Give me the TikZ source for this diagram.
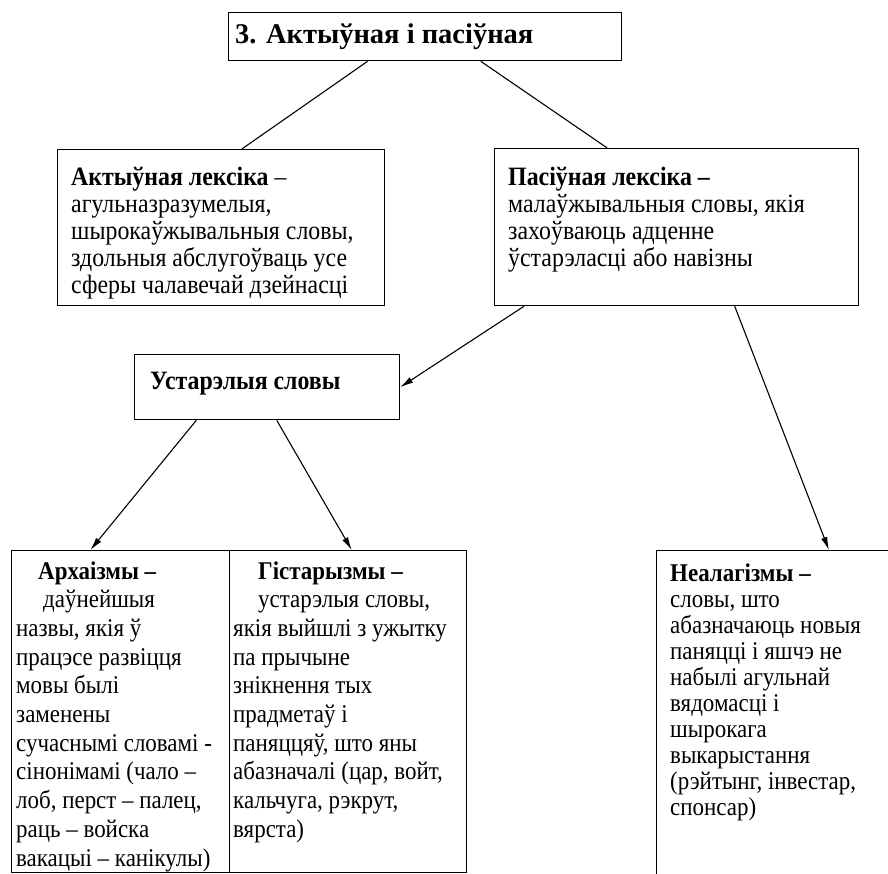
\documentclass[tikz,border=0pt]{standalone}
\usepackage{fontspec}
\setmainfont{Liberation Serif}[FakeStretch=0.9]
\newfontfamily\titlefont{Liberation Serif}
\usetikzlibrary{calc,arrows.meta}
\begin{document}
\begin{tikzpicture}[x=1pt,y=-1pt,
  box/.style={draw, line width=1.3pt, inner sep=0, anchor=north west},
  txt/.style={anchor=base west, inner sep=0, font=\fontsize{26.5}{27}\selectfont},
  conn/.style={line width=1.1pt},
  arr/.style={line width=1.1pt, -{Latex[length=13pt,width=6.5pt]}}]
\useasboundingbox (0,0) rectangle (888,874);
\clip (0,0) rectangle (888,874);
% boxes
\node[box, minimum width=393pt, minimum height=48pt] (top) at (228,12) {};
\node[box, minimum width=327pt, minimum height=156pt] (akt) at (57,149) {};
\node[box, minimum width=364pt, minimum height=157pt] (pas) at (494,148) {};
\node[box, minimum width=265pt, minimum height=65pt] (ust) at (134,354) {};
\node[box, minimum width=218pt, minimum height=322pt] (arx) at (11,550) {};
\node[box, minimum width=237pt, minimum height=322pt] (gis) at (229,550) {};
\node[box, minimum width=250pt, minimum height=340pt] (neo) at (656,550) {};
% texts
\node[txt, font=\fontsize{28.5}{30}\titlefont\bfseries] (ttop) at (235,44) {3. Актыўная і пасіўная};
\node[txt] (takt) at (71,186) {\parbox[t]{315pt}{\raggedright
  \textbf{Актыўная лексіка} –\\
  агульназразумелыя,\\
  шырокаўжывальныя словы,\\
  здольныя абслугоўваць усе\\
  сферы чалавечай дзейнасці}};
\node[txt] (tpas) at (508,186) {\parbox[t]{345pt}{\raggedright
  \textbf{Пасіўная лексіка –}\\
  малаўжывальныя словы, якія\\
  захоўваюць адценне\\
  ўстарэласці або навізны}};
\node[txt, font=\fontsize{26.5}{28}\selectfont\bfseries] (tust) at (150,389) {Устарэлыя словы};
\node[txt, font=\fontsize{25.5}{28.7}\selectfont] (tarx) at (16,579) {\parbox[t]{215pt}{\raggedright
  \hspace*{22pt}\textbf{Архаізмы –}\\
  \hspace*{27pt}даўнейшыя\\
  назвы, якія ў\\
  працэсе развіцця\\
  мовы былі\\
  заменены\\
  сучаснымі словамі -\\
  сінонімамі (чало –\\
  лоб, перст – палец,\\
  раць – войска\\
  вакацыі – канікулы)}};
\node[txt, font=\fontsize{25.5}{28.7}\selectfont] (tgis) at (233,579) {\parbox[t]{235pt}{\raggedright
  \hspace*{25pt}\textbf{Гістарызмы –}\\
  \hspace*{25pt}устарэлыя словы,\\
  якія выйшлі з ужытку\\
  па прычыне\\
  знікнення тых\\
  прадметаў і\\
  паняццяў, што яны\\
  абазначалі (цар, войт,\\
  кальчуга, рэкрут,\\
  вярста)}};
\node[txt, font=\fontsize{25.5}{26}\selectfont] (tneo) at (670,581) {\parbox[t]{215pt}{\raggedright
  \textbf{Неалагізмы –}\\
  словы, што\\
  абазначаюць новыя\\
  паняцці і яшчэ не\\
  набылі агульнай\\
  вядомасці і\\
  шырокага\\
  выкарыстання\\
  (рэйтынг, інвестар,\\
  спонсар)}};
% connectors
\draw[conn] ($(top.south west)!0.354!(top.south east)$) -- ($(akt.north west)!0.563!(akt.north east)$);
\draw[conn] ($(top.south west)!0.641!(top.south east)$) -- ($(pas.north west)!0.310!(pas.north east)$);
\draw[arr] ($(pas.south west)!0.082!(pas.south east)$) -- ($(ust.north east)!0.5!(ust.south east)$);
\draw[arr] ($(pas.south west)!0.659!(pas.south east)$) -- ($(neo.north west)!0.688!(neo.north east)$);
\draw[arr] ($(ust.south west)!0.234!(ust.south east)$) -- ($(arx.north west)!0.362!(arx.north east)$);
\draw[arr] ($(ust.south west)!0.536!(ust.south east)$) -- ($(gis.north west)!0.515!(gis.north east)$);
\end{tikzpicture}
\end{document}
